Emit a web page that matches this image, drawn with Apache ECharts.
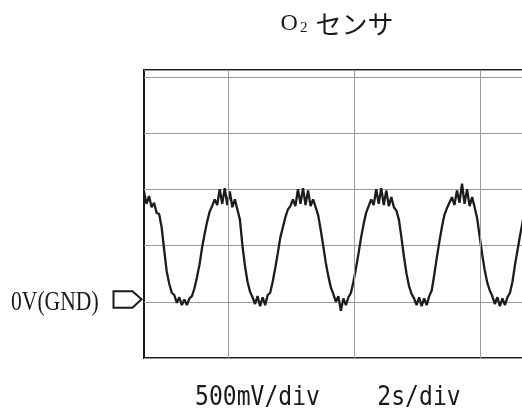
<!DOCTYPE html>
<html>
<head>
<meta charset="utf-8">
<script src="https://cdn.jsdelivr.net/npm/echarts@6/dist/echarts.min.js"></script>
<style>
html,body{margin:0;padding:0;background:#fff;}
#chart{width:522px;height:414px;}
</style>
</head>
<body>
<div id="chart"></div>
<script>
// Oscilloscope trace of an O2 sensor (volts), sampled every sampleStep seconds
var titleText = ['O', '2', 'センサ'];
var gndLabel = '0V(GND)';
var voltScaleLabel = '500mV/div';
var timeScaleLabel = '2s/div';
var sampleStart = -1.33;      // s
var sampleStep = 0.04;        // s
var timeGridLines = [0, 2, 4]; // s (2 s/div)
var voltMin = -0.5, voltMax = 2.06, voltDiv = 0.5;
var timeMin = -1.33, timeMax = 4.9;
var sensorVolts = [
  0.98, 0.87, 0.94, 0.84, 0.88, 0.79, 0.78, 0.66, 0.46, 0.27,
  0.16, 0.08, 0.06, -0.01, 0.04, -0.03, 0.02, -0.03, 0.03, 0.05,
  0.12, 0.22, 0.33, 0.48, 0.60, 0.71, 0.80, 0.85, 0.91, 0.86,
  1.00, 0.87, 1.01, 0.86, 0.98, 0.84, 0.91, 0.82, 0.73, 0.50,
  0.32, 0.18, 0.09, 0.04, -0.02, 0.05, -0.04, 0.04, -0.03, 0.06,
  0.08, 0.18, 0.30, 0.43, 0.57, 0.66, 0.75, 0.82, 0.85, 0.91,
  0.85, 1.00, 0.87, 1.01, 0.86, 0.99, 0.85, 0.91, 0.84, 0.77,
  0.64, 0.50, 0.35, 0.23, 0.13, 0.07, 0.00, 0.05, -0.08, 0.03,
  -0.03, 0.04, 0.08, 0.18, 0.30, 0.43, 0.57, 0.69, 0.79, 0.85,
  0.91, 0.86, 1.00, 0.87, 1.01, 0.86, 0.99, 0.85, 0.93, 0.84,
  0.81, 0.73, 0.57, 0.40, 0.25, 0.14, 0.07, 0.03, -0.03, 0.04,
  -0.04, 0.03, -0.03, 0.05, 0.10, 0.24, 0.39, 0.53, 0.66, 0.77,
  0.83, 0.88, 0.93, 0.86, 0.99, 0.88, 1.05, 0.87, 1.00, 0.85,
  0.93, 0.84, 0.74, 0.58, 0.42, 0.28, 0.17, 0.10, 0.05, -0.02,
  0.04, -0.04, 0.03, -0.03, 0.04, 0.08, 0.18, 0.33, 0.46, 0.59,
  0.71, 0.82
];

var traceData = sensorVolts.map(function (v, i) {
  return [+(sampleStart + i * sampleStep).toFixed(3), v];
});

var chart = echarts.init(document.getElementById('chart'), null, {renderer: 'canvas'});

var gridLeft = 144, gridTop = 70, gridBottom = 56;
var pxPerSec = 63.1;
var gridWidth = (timeMax - timeMin) * pxPerSec;

chart.setOption({
  animation: false,
  backgroundColor: '#ffffff',
  grid: {
    left: gridLeft, top: gridTop, bottom: gridBottom, width: gridWidth,
    outerBoundsMode: 'none', containLabel: false,
    show: true, borderColor: '#1a1a1a', borderWidth: 2, backgroundColor: '#ffffff'
  },
  xAxis: {
    type: 'value', min: timeMin, max: timeMax,
    axisLine: {show: false}, axisTick: {show: false}, axisLabel: {show: false},
    splitLine: {show: false}
  },
  yAxis: {
    type: 'value', min: voltMin, max: voltMax, interval: voltDiv,
    axisLine: {show: false}, axisTick: {show: false}, axisLabel: {show: false},
    splitLine: {show: true, lineStyle: {color: '#9a9a9a', width: 1}}
  },
  series: [
    {
      type: 'line', data: [], z: 1, silent: true,
      markLine: {
        silent: true, symbol: ['none', 'none'], label: {show: false},
        lineStyle: {color: '#9a9a9a', width: 1, type: 'solid'},
        data: timeGridLines.map(function (t) { return {xAxis: t}; })
      }
    },
    {
      type: 'line', data: traceData, z: 3, showSymbol: false, symbol: 'none',
      lineStyle: {color: '#1c1c1c', width: 2.3}, clip: true
    }
  ]
});

var gndY = chart.convertToPixel({yAxisIndex: 0}, 0);
var leftX = chart.convertToPixel({xAxisIndex: 0}, timeMin);

chart.setOption({
  graphic: [
    {
      type: 'text', x: 337, y: 24,
      style: {
        text: '{o|' + titleText[0] + '}{s|' + titleText[1] + '}{k|' + titleText[2] + '}',
        align: 'center', verticalAlign: 'middle',
        rich: {
          o: {fontFamily: 'Liberation Serif', fontSize: 24, fill: '#1a1a1a', lineHeight: 30, verticalAlign: 'middle'},
          s: {fontFamily: 'Liberation Serif', fontSize: 15, fill: '#1a1a1a', lineHeight: 30, verticalAlign: 'bottom', padding: [0, 8, 3, 2]},
          k: {fontFamily: 'Noto Sans CJK JP', fontSize: 26, fill: '#1a1a1a', lineHeight: 30, verticalAlign: 'middle'}
        }
      }
    },
    {
      type: 'text', x: 11, y: gndY + 1, scaleX: 0.8,
      style: {
        text: gndLabel, x: 0, y: 0, align: 'left', verticalAlign: 'middle',
        fontFamily: 'Liberation Serif', fontSize: 27, fill: '#1a1a1a'
      }
    },
    {
      type: 'polygon',
      shape: {points: [
        [leftX - 30.5, gndY - 10.5], [leftX - 11.5, gndY - 10.5], [leftX - 2.5, gndY - 2.5],
        [leftX - 11.5, gndY + 6], [leftX - 30.5, gndY + 6]
      ]},
      style: {fill: '#ffffff', stroke: '#1a1a1a', lineWidth: 2}
    },
    {
      type: 'text', x: 257.5, y: 398, scaleX: 0.887,
      style: {
        text: voltScaleLabel, align: 'center', verticalAlign: 'middle',
        fontFamily: 'DejaVu Sans Mono', fontSize: 26, fill: '#1a1a1a'
      }
    },
    {
      type: 'text', x: 419, y: 398, scaleX: 0.887,
      style: {
        text: timeScaleLabel, align: 'center', verticalAlign: 'middle',
        fontFamily: 'DejaVu Sans Mono', fontSize: 26, fill: '#1a1a1a'
      }
    }
  ]
});
</script>
</body>
</html>
